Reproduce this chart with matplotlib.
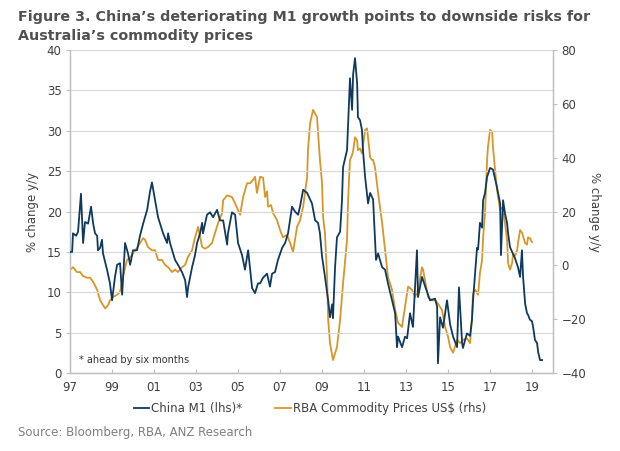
import numpy as np
import matplotlib.pyplot as plt
from matplotlib.lines import Line2D

plt.rcParams['font.family'] = 'DejaVu Sans'

# China M1 growth, % y/y (lhs), shifted ahead by six months
m1_dates = [1997.00, 1997.10, 1997.14, 1997.29, 1997.38, 1997.52, 1997.62, 1997.71, 1997.86, 1998.00,
            1998.10, 1998.19, 1998.29, 1998.33, 1998.43, 1998.52, 1998.57, 1998.76, 1998.90, 1999.00,
            1999.14, 1999.24, 1999.38, 1999.48, 1999.62, 1999.76, 1999.86, 2000.00, 2000.19, 2000.33,
            2000.48, 2000.67, 2000.81, 2000.90, 2001.05, 2001.19, 2001.43, 2001.62, 2001.67, 2001.76,
            2002.00, 2002.14, 2002.33, 2002.48, 2002.57, 2002.62, 2002.81, 2002.95, 2003.05, 2003.19,
            2003.29, 2003.33, 2003.52, 2003.67, 2003.81, 2004.00, 2004.14, 2004.29, 2004.48, 2004.52,
            2004.71, 2004.86, 2005.00, 2005.19, 2005.33, 2005.48, 2005.67, 2005.81, 2005.95,
            2006.05, 2006.19, 2006.38, 2006.52, 2006.62, 2006.76, 2006.90, 2007.10, 2007.24, 2007.38,
            2007.57, 2007.71, 2007.86, 2007.95, 2008.10, 2008.29, 2008.52, 2008.67, 2008.81, 2008.90,
            2009.00, 2009.14, 2009.29, 2009.38, 2009.48, 2009.52, 2009.62, 2009.71, 2009.86, 2009.95,
            2010.00, 2010.19, 2010.33, 2010.43, 2010.48, 2010.57, 2010.67, 2010.71, 2010.81, 2010.90,
            2010.95, 2011.05, 2011.19, 2011.29, 2011.43, 2011.48, 2011.57, 2011.67, 2011.86, 2012.00,
            2012.14, 2012.33, 2012.48, 2012.57, 2012.62, 2012.81, 2012.95, 2013.05, 2013.19, 2013.33,
            2013.52, 2013.57, 2013.76, 2013.90, 2014.14, 2014.38, 2014.48, 2014.52, 2014.62, 2014.76,
            2014.95, 2015.10, 2015.24, 2015.43, 2015.52, 2015.67, 2015.71, 2015.90, 2016.05, 2016.14,
            2016.19, 2016.29, 2016.38, 2016.43, 2016.52, 2016.62, 2016.67, 2016.76, 2016.86, 2017.00,
            2017.14, 2017.33, 2017.48, 2017.52, 2017.62, 2017.71, 2017.81, 2017.86, 2017.95, 2018.05,
            2018.19, 2018.33, 2018.43, 2018.52, 2018.57, 2018.67, 2018.76, 2018.81, 2018.90, 2019.00,
            2019.05, 2019.14, 2019.24, 2019.29, 2019.38, 2019.48]
m1_values = [15.0, 15.0, 17.3, 17.0, 17.5, 22.2, 16.1, 18.7, 18.5, 20.6,
             18.5, 17.3, 17.0, 15.2, 15.5, 16.5, 14.8, 12.8, 11.1, 9.0,
             11.9, 13.4, 13.6, 9.7, 16.1, 14.8, 13.4, 15.2, 15.2, 17.0,
             18.5, 20.2, 22.5, 23.6, 21.4, 19.3, 17.3, 16.1, 17.3, 16.1,
             14.0, 13.4, 12.5, 11.5, 9.4, 10.6, 13.1, 14.6, 16.1, 17.3,
             18.6, 17.3, 19.6, 19.9, 19.3, 20.2, 18.9, 18.9, 15.9, 17.3,
             19.9, 19.6, 16.1, 14.6, 12.8, 15.2, 10.5, 9.9, 11.1,
             11.1, 11.8, 12.3, 10.7, 12.3, 12.5, 14.0, 15.5, 16.1, 17.3,
             20.6, 20.0, 19.6, 20.6, 22.7, 22.3, 21.0, 18.9, 18.6, 17.3,
             14.4, 11.9, 9.0, 6.9, 8.5, 6.8, 13.1, 16.8, 17.5, 21.4,
             25.5, 27.6, 36.5, 32.6, 37.0, 39.0, 35.9, 31.7, 31.3, 30.1,
             27.6, 24.3, 21.0, 22.3, 21.5, 18.9, 14.0, 14.8, 13.1, 12.8,
             11.1, 9.0, 7.4, 3.2, 4.5, 3.2, 4.5, 4.3, 7.4, 5.7,
             15.2, 9.4, 11.9, 10.8, 9.0, 9.2, 8.2, 1.2, 6.9, 5.6,
             9.0, 6.0, 4.5, 3.2, 10.6, 3.7, 3.1, 4.9, 4.6, 6.6,
             9.0, 12.4, 15.5, 15.3, 18.6, 18.0, 21.4, 22.3, 24.3, 25.4,
             25.2, 23.0, 21.0, 14.6, 21.4, 19.8, 18.6, 17.3, 15.6, 15.0,
             14.2, 13.1, 11.9, 15.2, 12.0, 8.6, 7.4, 7.2, 6.6, 6.4,
             5.7, 4.1, 3.7, 2.6, 1.6, 1.6]

# RBA commodity prices in US$, % y/y (rhs)
rba_dates = [1997.00, 1997.14, 1997.33, 1997.48, 1997.62, 1997.81, 1997.95, 1998.10, 1998.29, 1998.43,
             1998.57, 1998.67, 1998.81, 1998.90, 1999.05, 1999.24, 1999.38, 1999.52, 1999.71, 1999.86,
             2000.00, 2000.19, 2000.33, 2000.48, 2000.57, 2000.71, 2000.90, 2001.05, 2001.19, 2001.38,
             2001.52, 2001.67, 2001.86, 2002.00, 2002.14, 2002.33, 2002.48, 2002.62, 2002.81, 2002.95,
             2003.10, 2003.29, 2003.43, 2003.57, 2003.76, 2003.90, 2004.05, 2004.24, 2004.29, 2004.48,
             2004.71, 2004.86, 2005.10, 2005.24, 2005.43, 2005.57, 2005.71, 2005.81, 2005.90, 2006.05,
             2006.19, 2006.29, 2006.38, 2006.43, 2006.57, 2006.67, 2006.86, 2007.00, 2007.14, 2007.33,
             2007.48, 2007.62, 2007.81, 2007.95, 2008.10, 2008.29, 2008.33, 2008.43, 2008.57, 2008.76,
             2008.81, 2008.90, 2009.00, 2009.05, 2009.14, 2009.24, 2009.29, 2009.38, 2009.52, 2009.71,
             2009.86, 2010.00, 2010.19, 2010.24, 2010.33, 2010.43, 2010.48, 2010.57, 2010.67, 2010.71,
             2010.81, 2010.90, 2010.95, 2011.05, 2011.14, 2011.19, 2011.29, 2011.38, 2011.43, 2011.52,
             2011.67, 2011.86, 2012.00, 2012.14, 2012.33, 2012.48, 2012.62, 2012.81, 2012.95, 2013.10,
             2013.29, 2013.43, 2013.57, 2013.76, 2013.81, 2013.90, 2014.05, 2014.24, 2014.38, 2014.52,
             2014.71, 2014.86, 2015.00, 2015.10, 2015.24, 2015.43, 2015.57, 2015.71, 2015.90, 2016.05,
             2016.14, 2016.19, 2016.29, 2016.43, 2016.52, 2016.62, 2016.67, 2016.76, 2016.86, 2016.90,
             2017.00, 2017.10, 2017.14, 2017.24, 2017.33, 2017.48, 2017.62, 2017.71, 2017.81, 2017.86,
             2017.95, 2018.05, 2018.10, 2018.19, 2018.29, 2018.33, 2018.43, 2018.52, 2018.67, 2018.76,
             2018.81, 2018.90, 2019.00]
rba_values = [-1.7, -0.7, -2.5, -2.5, -4.0, -4.6, -4.6, -6.1, -9.1, -13.0,
              -14.8, -16.0, -14.8, -13.0, -11.8, -10.9, -10.0, -4.3, 2.0, 2.9,
              4.4, 6.5, 8.3, 10.1, 9.5, 6.8, 5.6, 5.6, 2.0, 2.0,
              0.2, -0.7, -2.5, -1.6, -2.5, -0.7, 0.2, 3.2, 5.6, 10.4,
              14.3, 6.8, 6.2, 6.8, 8.3, 11.9, 15.8, 19.4, 24.2, 26.0,
              25.4, 23.0, 18.8, 25.4, 30.5, 30.5, 31.7, 32.9, 26.9, 32.9,
              32.6, 25.4, 27.5, 21.8, 22.4, 19.4, 16.7, 13.1, 10.4, 11.3,
              8.3, 5.0, 14.3, 16.7, 21.8, 32.9, 42.8, 52.7, 57.8, 55.1,
              49.1, 39.2, 30.5, 17.9, 11.9, -4.3, -20.2, -28.9, -35.2, -30.4,
              -20.2, -6.7, 9.5, 24.2, 39.2, 41.0, 42.5, 47.6, 46.4, 42.8,
              43.4, 41.6, 44.6, 50.3, 50.9, 47.6, 40.1, 39.2, 39.2, 36.5,
              26.9, 15.8, 5.6, -4.3, -9.1, -16.6, -21.4, -22.9, -15.4, -7.9,
              -9.1, -11.8, -9.1, -0.7, -1.6, -5.5, -11.8, -13.0, -13.0, -14.2,
              -16.6, -22.9, -26.5, -30.4, -32.5, -27.7, -28.9, -27.7, -27.1, -28.9,
              -19.3, -10.3, -9.1, -10.9, -2.8, 2.0, 10.4, 19.4, 39.2, 44.0,
              50.3, 49.7, 44.0, 35.3, 28.1, 20.6, 21.8, 15.8, 9.5, 0.8,
              -1.6, 0.8, 4.4, 3.5, 5.6, 8.3, 13.1, 12.2, 8.3, 7.7,
              10.4, 10.1, 8.6]

year_ticks = list(range(1997, 2020, 2))
year_labels = ['97', '99', '01', '03', '05', '07', '09', '11', '13', '15', '17', '19']

navy = '#0f3a5f'
gold = '#d99527'
grid_grey = '#d9d9d9'
axis_grey = '#bfbfbf'
text_grey = '#404040'

fig = plt.figure(figsize=(6.2, 4.51), dpi=100)
ax = fig.add_axes([0.113, 0.173, 0.779, 0.716])
ax2 = ax.twinx()

ax.plot(m1_dates, m1_values, color=navy, lw=1.3, zorder=3)
ax2.plot(rba_dates, rba_values, color=gold, lw=1.3, zorder=2)
ax.set_zorder(ax2.get_zorder() + 1)
ax.patch.set_visible(False)

ax.set_xlim(1997, 2020)
ax.set_ylim(0, 40)
ax2.set_ylim(-40, 80)
ax.set_yticks(range(0, 41, 5))
ax2.set_yticks(range(-40, 81, 20))
ax.set_xticks(year_ticks)
ax.set_xticklabels(year_labels)

ax.grid(axis='y', color=grid_grey, lw=0.9)
ax.set_axisbelow(True)

for a in (ax, ax2):
    a.spines['top'].set_visible(False)
    for s in ('left', 'right', 'bottom'):
        a.spines[s].set_color(axis_grey)
        a.spines[s].set_linewidth(0.9)
    a.tick_params(colors=text_grey, labelsize=8.5, length=3, color=axis_grey)
ax.tick_params(axis='x', direction='in', length=3, pad=6)
ax.tick_params(axis='y', pad=3)
ax2.tick_params(axis='y', pad=3)

ax.set_ylabel('% change y/y', fontsize=8.5, color=text_grey, labelpad=6)
ax2.set_ylabel('% change y/y', fontsize=8.5, color=text_grey, rotation=-90, labelpad=11)

ax.text(0.018, 0.025, '* ahead by six months', transform=ax.transAxes,
        fontsize=7, color='#333333', va='bottom')

handles = [Line2D([0], [0], color=navy, lw=1.3),
           Line2D([0], [0], color=gold, lw=1.3)]
fig.legend(handles, ['China M1 (lhs)*', 'RBA Commodity Prices US$ (rhs)'],
           loc='center', bbox_to_anchor=(0.5, 0.095), ncol=2, frameon=False,
           fontsize=8.5, handlelength=1.3, handletextpad=0.2, columnspacing=2.8,
           labelcolor=text_grey)

fig.text(0.029, 0.978, 'Figure 3. China\u2019s deteriorating M1 growth points to downside risks for\n'
         'Australia\u2019s commodity prices', fontsize=10.3, fontweight='bold',
         color='#505050', va='top', linespacing=1.45)
fig.text(0.029, 0.04, 'Source: Bloomberg, RBA, ANZ Research', fontsize=8.5,
         color='#7f7f7f', va='center')

fig.savefig('out.png', dpi=100)
